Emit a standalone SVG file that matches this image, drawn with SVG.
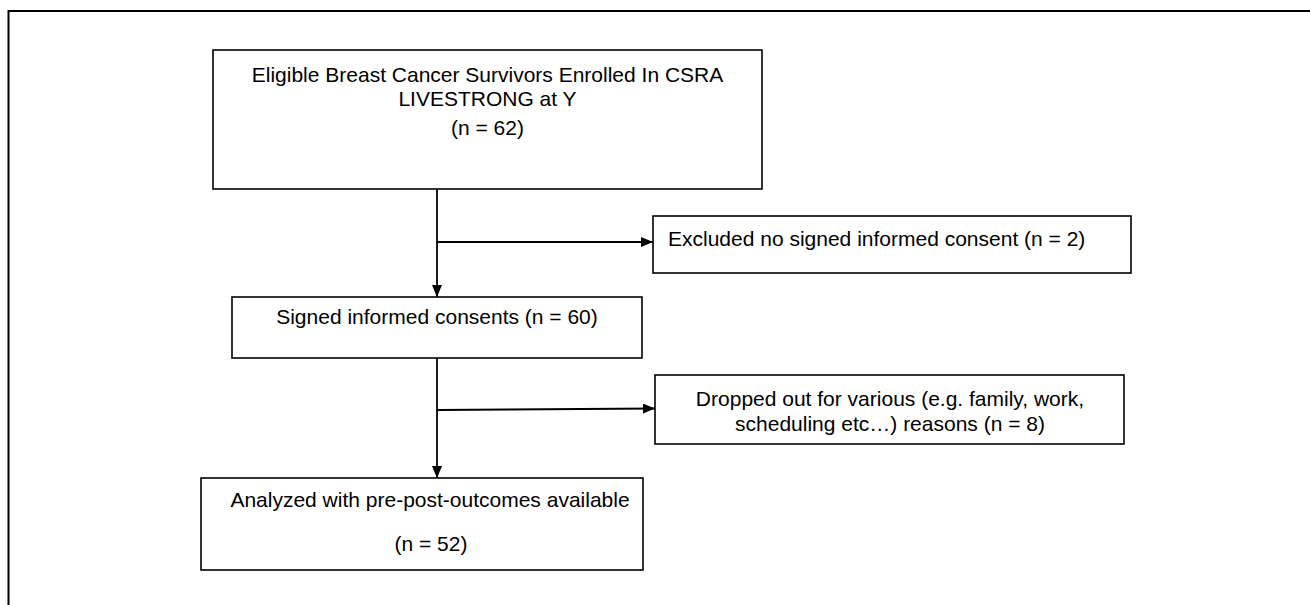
<svg xmlns="http://www.w3.org/2000/svg" width="1310" height="605" viewBox="0 0 1310 605">
<style>
.box{fill:#fff;stroke:#000;stroke-width:1.6}
.t{font-family:"Liberation Sans",Arial,sans-serif;font-size:21px;fill:#000}
.c{text-anchor:middle}
.ln{stroke:#000;stroke-width:1.8;fill:none}
</style>
<defs>
<marker id="ah" viewBox="0 0 12 10" refX="12" refY="5" markerWidth="12" markerHeight="10" markerUnits="userSpaceOnUse" orient="auto">
<path d="M0,0 L12,5 L0,10 Z" fill="#000"/>
</marker>
</defs>
<rect width="1310" height="605" fill="#fff"/>
<g id="frame">
<path d="M8.5,605 V11 H1310" stroke="#000" stroke-width="2" fill="none"/>
</g>
<g id="n1">
<rect class="box" x="213" y="50" width="549" height="139"/>
<text class="t c" x="487.5" y="82">Eligible Breast Cancer Survivors Enrolled In CSRA</text>
<text class="t c" x="487.5" y="106">LIVESTRONG at Y</text>
<text class="t c" x="487.5" y="135">(n = 62)</text>
</g>
<g id="n2">
<rect class="box" x="653" y="216" width="478" height="57"/>
<text class="t" x="668" y="246">Excluded no signed informed consent (n = 2)</text>
</g>
<g id="n3">
<rect class="box" x="232" y="297" width="410" height="61"/>
<text class="t c" x="437" y="324">Signed informed consents (n = 60)</text>
</g>
<g id="n4">
<rect class="box" x="655" y="375" width="469" height="69"/>
<text class="t c" x="890" y="406">Dropped out for various (e.g. family, work,</text>
<text class="t c" x="890" y="431">scheduling etc…) reasons (n = 8)</text>
</g>
<g id="n5">
<rect class="box" x="201" y="478" width="442" height="92"/>
<text class="t c" x="430" y="507">Analyzed with pre-post-outcomes available</text>
<text class="t c" x="431" y="551">(n = 52)</text>
</g>
<g id="connectors">
<line class="ln" x1="437" y1="189" x2="437" y2="297" marker-end="url(#ah)"/>
<line class="ln" x1="437" y1="242" x2="653" y2="242" marker-end="url(#ah)"/>
<line class="ln" x1="437" y1="358" x2="437" y2="478" marker-end="url(#ah)"/>
<line class="ln" x1="437" y1="410" x2="655" y2="408.5" marker-end="url(#ah)"/>
</g>
</svg>
